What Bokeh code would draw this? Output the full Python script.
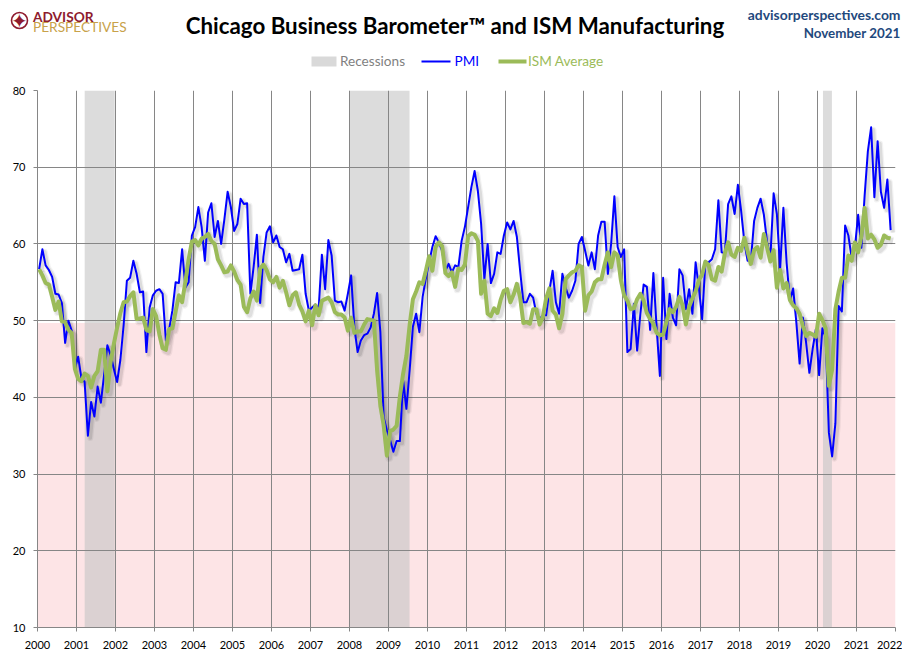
from bokeh.plotting import figure
from bokeh.layouts import column
from bokeh.models import Label, FixedTicker, Range1d
from bokeh.core.properties import value
from bokeh.embed import file_html
from bokeh.resources import INLINE

# ---------------- data ----------------
START_YEAR = 2000
YEARS = list(range(2000, 2023))
YEAR_LABELS = [str(y) for y in YEARS]
Y_TICKS = [10, 20, 30, 40, 50, 60, 70, 80]

# Chicago Business Barometer (PMI), monthly Jan 2000 - Nov 2021
PMI = [
    56.7, 59.3, 57.2, 56.6, 55.7, 53.5, 53.4, 52.3, 47.1, 50.0, 48.7, 43.7,  # 2000
    45.3, 42.5, 42.0, 35.0, 39.4, 37.5, 41.4, 39.3, 43.0, 46.8, 45.5, 43.7,  # 2001
    42.0, 44.9, 49.4, 55.2, 55.6, 57.8, 56.1, 53.7, 53.8, 45.9, 51.7, 53.3,  # 2002
    53.9, 54.1, 53.5, 47.4, 48.9, 51.3, 55.0, 54.9, 59.3, 54.3, 55.0, 61.1,  # 2003
    62.2, 64.8, 62.2, 57.8, 64.1, 65.3, 60.9, 63.0, 60.0, 63.2, 66.8, 64.8,  # 2004
    61.7, 62.6, 65.9, 65.2, 65.3, 53.5, 57.0, 61.2, 52.3, 58.3, 61.5, 62.3,  # 2005
    60.2, 61.1, 59.6, 59.3, 57.6, 58.7, 56.5, 56.6, 56.7, 58.6, 53.5, 51.3,  # 2006
    51.7, 52.1, 51.5, 58.6, 54.1, 60.5, 58.5, 52.6, 52.4, 52.5, 51.3, 53.5,  # 2007
    55.9, 49.1, 45.9, 47.4, 48.1, 48.3, 49.1, 50.9, 53.6, 48.5, 37.4, 35.7,  # 2008
    34.4, 32.9, 34.3, 34.3, 42.2, 38.5, 43.5, 49.2, 50.9, 48.5, 53.1, 55.5,  # 2009
    57.6, 59.6, 61.0, 60.2, 59.1, 56.5, 57.4, 56.3, 57.2, 57.0, 60.4, 62.2,  # 2010
    64.8, 67.4, 69.5, 66.9, 62.6, 55.4, 60.0, 54.9, 56.1, 58.9, 58.7, 61.1,  # 2011
    62.8, 61.9, 63.0, 60.9, 56.5, 52.4, 52.4, 53.5, 53.0, 50.9, 50.2, 50.7,  # 2012
    50.7, 53.9, 56.5, 52.4, 50.9, 56.1, 54.3, 53.0, 53.9, 55.2, 60.0, 60.9,  # 2013
    59.1, 57.2, 58.9, 56.7, 61.1, 62.9, 62.9, 56.1, 60.0, 66.2, 59.6, 58.3,  # 2014
    59.3, 45.9, 46.3, 52.2, 46.1, 50.9, 54.7, 54.4, 48.8, 56.2, 49.1, 42.8,  # 2015
    55.6, 47.6, 53.5, 50.4, 49.4, 56.7, 55.9, 51.5, 54.1, 50.9, 57.6, 54.3,  # 2016
    50.2, 57.6, 57.6, 58.0, 59.3, 65.7, 58.9, 58.8, 65.2, 66.2, 63.9, 67.7,  # 2017
    64.3, 60.2, 57.8, 57.8, 63.0, 64.7, 65.9, 63.8, 60.2, 58.2, 66.6, 63.9,  # 2018
    56.7, 64.7, 57.5, 52.6, 54.2, 49.7, 44.4, 50.4, 47.1, 43.2, 46.3, 48.9,  # 2019
    42.9, 49.0, 47.8, 35.4, 32.3, 36.6, 51.9, 51.2, 62.4, 61.1, 58.2, 59.5,  # 2020
    63.8, 59.5, 66.3, 72.1, 75.2, 66.1, 73.4, 66.8, 64.7, 68.4, 61.8,        # 2021
]

# ISM Average, monthly Jan 2000 - Nov 2021
ISM = [
    56.7, 55.9, 54.9, 54.7, 53.1, 51.4, 52.5, 49.9, 49.8, 48.8, 48.4, 43.7,  # 2000
    42.4, 42.1, 43.1, 42.8, 41.3, 42.8, 43.4, 46.2, 46.2, 40.8, 44.6, 47.0,  # 2001
    49.1, 51.0, 52.4, 52.5, 53.2, 53.7, 50.2, 50.3, 50.4, 48.8, 48.6, 51.5,  # 2002
    50.6, 48.2, 46.4, 46.2, 48.9, 49.0, 51.2, 53.3, 52.4, 55.1, 58.0, 60.3,  # 2003
    60.5, 59.8, 60.7, 60.9, 61.3, 60.4, 60.0, 58.0, 57.2, 56.3, 56.4, 57.2,  # 2004
    56.4, 55.3, 54.7, 51.8, 51.1, 52.9, 53.8, 52.6, 56.8, 57.3, 56.6, 55.4,  # 2005
    55.0, 55.7, 54.3, 55.2, 53.7, 52.0, 53.3, 53.7, 52.1, 51.2, 49.9, 51.3,  # 2006
    49.4, 52.0, 50.7, 52.6, 52.8, 53.0, 52.4, 51.1, 50.8, 50.8, 50.4, 48.7,  # 2007
    50.4, 48.4, 48.6, 48.6, 49.5, 50.2, 50.1, 50.0, 43.5, 38.9, 36.4, 32.4,  # 2008
    35.6, 35.8, 36.3, 40.1, 43.1, 45.4, 49.4, 52.8, 53.8, 55.0, 54.8, 56.5,  # 2009
    58.4, 56.5, 59.6, 60.2, 59.7, 56.2, 55.8, 56.3, 54.4, 56.8, 56.6, 57.3,  # 2010
    61.0, 61.4, 61.2, 60.4, 53.5, 55.2, 50.9, 50.6, 51.6, 51.0, 52.7, 53.9,  # 2011
    54.1, 52.4, 53.4, 54.8, 53.0, 49.7, 49.8, 49.6, 51.5, 51.5, 49.5, 50.5,  # 2012
    52.9, 54.2, 51.3, 50.8, 49.0, 50.9, 55.4, 55.9, 56.3, 56.5, 57.2, 57.0,  # 2013
    51.3, 53.3, 53.8, 55.0, 55.4, 55.4, 57.3, 58.9, 57.0, 58.9, 58.5, 55.3,  # 2014
    53.3, 52.6, 51.5, 51.6, 52.8, 53.5, 52.6, 51.0, 50.2, 49.6, 48.4, 48.1,  # 2015
    48.2, 49.8, 51.5, 51.1, 51.8, 53.1, 52.0, 49.5, 51.8, 52.9, 53.8, 55.3,  # 2016
    56.0, 57.7, 57.2, 55.4, 55.2, 57.0, 56.4, 58.8, 60.2, 58.6, 58.3, 59.5,  # 2017
    59.1, 60.8, 59.0, 57.4, 59.2, 59.6, 58.2, 61.3, 59.5, 57.7, 59.2, 54.3,  # 2018
    56.6, 54.2, 54.9, 52.7, 52.0, 51.6, 50.9, 49.3, 48.0, 48.4, 48.2, 47.9,  # 2019
    50.9, 50.1, 49.0, 41.5, 43.6, 51.5, 53.8, 55.6, 55.6, 58.5, 57.8, 60.2,  # 2020
    58.9, 61.0, 64.7, 60.7, 61.2, 60.6, 59.5, 59.9, 61.1, 60.8, 60.7,        # 2021
]

# recessions (fractional years)
REC_START = [2001.21, 2007.99, 2020.14]
REC_END = [2001.98, 2009.54, 2020.37]

# contraction zone
ZONE_LEFT = [2000]
ZONE_RIGHT = [2022]
ZONE_BOTTOM = [10]
ZONE_TOP = [49.7]

SERIES_NAMES = ["Recessions", "PMI", "ISM Average"]
TITLE = "Chicago Business Barometer\u2122 and ISM Manufacturing"
SOURCE = "advisorperspectives.com"
DATE = "November 2021"

X = [START_YEAR + (i + 0.5) / 12 for i in range(len(PMI))]

FONT = "Lato"
GRID = "#868686"
BLUE = "#0000FF"
GREEN = "#9BBB59"
RED = "#8E1B2E"
W = 902
HEAD_H = 80

# ---------------- header figure (pixel coordinates, y downwards) ----------------
h = figure(width=W, height=HEAD_H, x_range=Range1d(0, W), y_range=Range1d(HEAD_H, 0),
           output_backend="svg", toolbar_location=None,
           x_axis_type=None, y_axis_type=None, min_border=0)
h.title.visible = False
h.outline_line_color = None
h.xgrid.visible = False
h.ygrid.visible = False
h.background_fill_color = "white"
h.border_fill_color = "white"


def lab(text, x, y, size, color, align="left", style="normal", font=FONT):
    h.add_layout(Label(x=x, y=y, text=text, text_align=align, text_baseline="middle",
                       text_font=font, text_font_size=size,
                       text_font_style=style, text_color=color))


# logo
h.scatter([19], [20], size=16, marker="circle", fill_color=None,
          line_color=RED, line_width=1.6)
h.text([19], [20.5], text=["\u2726"], text_align="center", text_baseline="middle",
       text_font=value("DejaVu Sans"), text_font_size="20px", text_color=RED)
lab("ADVISOR", 32.5, 16, "13.7px", RED, style="bold")
lab("PERSPECTIVES", 32.5, 26.2, "13.7px", "#C8A24A")
lab(TITLE, 454.5, 25, "22.3px", "#000000", align="center", style="bold")
lab(SOURCE, 900, 14, "13.9px", "#1F497D", align="right", style="bold")
lab(DATE, 900, 32.3, "13.4px", "#1F497D", align="right", style="bold")

# legend
LEG_Y = 61
h.quad(left=[311], right=[336], top=[LEG_Y - 5], bottom=[LEG_Y + 5],
       fill_color="#D9D9D9", line_color=None)
lab(SERIES_NAMES[0], 339.5, LEG_Y - 0.3, "13.6px", "#7F7F7F")
h.line([421, 450], [LEG_Y, LEG_Y], line_color=BLUE, line_width=2)
lab(SERIES_NAMES[1], 454, LEG_Y - 0.3, "13.6px", BLUE)
h.line([498, 526], [LEG_Y, LEG_Y], line_color=GREEN, line_width=4)
lab(SERIES_NAMES[2], 527.5, LEG_Y - 0.3, "13.6px", GREEN)

# ---------------- main chart ----------------
p = figure(width=W, height=573,
           x_range=Range1d(2000, 2022), y_range=Range1d(10, 80),
           output_backend="svg", toolbar_location=None,
           min_border_left=37, min_border_right=7,
           min_border_top=10, min_border_bottom=26)
p.outline_line_color = None
p.background_fill_color = "white"
p.border_fill_color = "white"

# keep the header's frame independent from the chart's frame
for fig in (h, p):
    if "frame_align" in fig.properties():
        fig.frame_align = False

for ax, ticks, standoff in ((p.xaxis, YEARS, 9), (p.yaxis, Y_TICKS, 8)):
    ax.ticker = FixedTicker(ticks=ticks)
    ax.minor_tick_line_color = None
    ax.major_tick_out = 4
    ax.major_tick_in = 0
    ax.axis_line_color = GRID
    ax.major_tick_line_color = GRID
    ax.major_label_text_font = FONT
    ax.major_label_text_font_size = "11px"
    ax.major_label_text_color = "#000000"
    ax.major_label_standoff = standoff
p.xaxis.major_label_overrides = {y: s for y, s in zip(YEARS, YEAR_LABELS)}
p.yaxis.major_label_overrides = {v: str(v) for v in Y_TICKS}

p.xgrid.ticker = FixedTicker(ticks=YEARS)
p.ygrid.ticker = FixedTicker(ticks=Y_TICKS)
for g in (p.xgrid, p.ygrid):
    g.grid_line_color = GRID
    g.grid_line_width = 1

# contraction zone and recessions (below the grid)
p.quad(left=ZONE_LEFT, right=ZONE_RIGHT, bottom=ZONE_BOTTOM, top=ZONE_TOP,
       fill_color="#FDE4E6", line_color=None, level="image")
p.quad(left=REC_START, right=REC_END, bottom=10, top=80,
       fill_color="#C2C2C2", fill_alpha=0.58, line_color=None, level="image")

# soft shadows
DX = 2.4 / 39.0
DY = 2.4 / 7.68
for w, a in ((6, 0.05), (3.5, 0.09)):
    p.line([x + DX for x in X], [v - DY for v in PMI], line_color="black",
           line_alpha=a, line_width=w, line_join="round")
for w, a in ((8, 0.05), (5.5, 0.08)):
    p.line([x + DX for x in X], [v - DY for v in ISM], line_color="black",
           line_alpha=a, line_width=w, line_join="round")

p.line(X, PMI, line_color=BLUE, line_width=2, line_join="round")
p.line(X, ISM, line_color=GREEN, line_width=4, line_join="round")

layout = column(h, p, spacing=0)
open("out.html", "w").write(file_html(layout, INLINE))
